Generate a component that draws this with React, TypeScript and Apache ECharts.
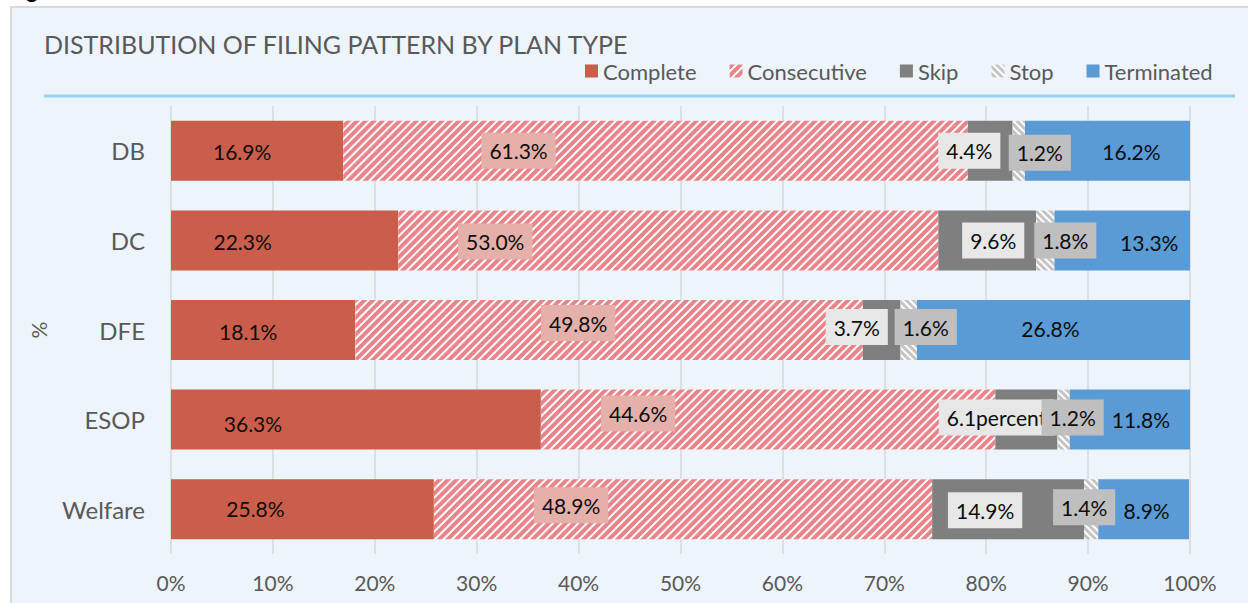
import React, { useEffect, useRef } from "react";
import * as echarts from "echarts";

const categories = ["DB", "DC", "DFE", "ESOP", "Welfare"];
const seriesNames = ["Complete", "Consecutive", "Skip", "Stop", "Terminated"];
const complete = [16.9, 22.3, 18.1, 36.3, 25.8];
const consecutive = [61.3, 53.0, 49.8, 44.6, 48.9];
const skip = [4.4, 9.6, 3.7, 6.1, 14.9];
const stop = [1.2, 1.8, 1.6, 1.2, 1.4];
const terminated = [16.2, 13.3, 26.8, 11.8, 8.9];
const xTicks = [0, 10, 20, 30, 40, 50, 60, 70, 80, 90, 100];
// custom label text (as in the source chart); null = default "x.x%"
const skipLabelText = [null, null, null, "6.1percent", null];

// label nudges in px [dx, dy] per series per category (as placed in the source chart)
const completeShift = [[-15, 1], [-42, 1], [-15, 1], [-103, 4], [-47, -1]];
const consecutiveShift = [[-137, 0], [-173, 1], [-31, -7], [-130, -6], [-112, -4]];
const skipShift = [[-21, 0], [6, 0], [-25, -3], [-30, -2], [-23, 1]];
const stopShift = [[21, 2], [20, 0], [17, -3], [9, -2], [-7, -2]];
const terminatedShift = [[24, 1], [27, 2], [-3, -2], [11, 0], [3, 1]];

const FONT = "Lato";
const GREY_TEXT = "#595959";

function buildData(values: number[], shifts: number[][], texts?: (string | null)[]) {
  return values.map((v, i) => {
    const item: any = { value: v, label: { offset: shifts[i] } };
    if (texts && texts[i]) item.label.formatter = texts[i];
    return item;
  });
}

export default function App() {
  const ref = useRef<HTMLDivElement>(null);
  useEffect(() => {
    if (!ref.current) return;
    const chart = echarts.init(ref.current, null, { renderer: "svg" });
    const labelBase = {
      show: true,
      position: "inside",
      fontFamily: FONT,
      fontSize: 21,
      color: "#0D0D0D",
      lineHeight: 24,
      formatter: (p: any) => `${p.value.toFixed(1)}%`,
    };
    const boxed = (bg: string) => ({
      ...labelBase,
      backgroundColor: bg,
      padding: [6, 8],
    });
    chart.setOption({
      animation: false,
      backgroundColor: "transparent",
      textStyle: { fontFamily: FONT },
      grid: { left: 171, right: 58, top: 106, height: 448, containLabel: false },
      legend: {
        left: 585,
        top: 60,
        padding: 0,
        itemWidth: 13,
        itemHeight: 13,
        itemGap: 33,
        icon: "rect",
        textStyle: { fontFamily: FONT, fontSize: 22, color: GREY_TEXT },
        data: seriesNames,
      },
      xAxis: {
        type: "value",
        min: xTicks[0],
        max: xTicks[xTicks.length - 1],
        interval: xTicks[1] - xTicks[0],
        axisLine: { show: false },
        axisTick: { show: false },
        splitLine: { show: true, lineStyle: { color: "#D9D9D9", width: 1.5 } },
        axisLabel: {
          formatter: "{value}%",
          fontFamily: FONT,
          fontSize: 21,
          color: GREY_TEXT,
          margin: 18,
        },
      },
      yAxis: {
        type: "category",
        inverse: true,
        data: categories,
        axisLine: { show: false },
        axisTick: { show: false },
        axisLabel: { fontFamily: FONT, fontSize: 24, color: GREY_TEXT, margin: 26 },
        name: "%",
        nameLocation: "middle",
        nameGap: 122,
        nameRotate: 90,
        nameTextStyle: { fontFamily: FONT, fontSize: 21, color: GREY_TEXT },
      },
      graphic: [
        {
          type: "text",
          left: 8,
          top: -22,
          style: { text: "Fig", fontFamily: FONT, fontWeight: "bold", fontSize: 22, fill: "#000" },
        },
        {
          type: "text",
          x: 44,
          y: 44,
          style: {
            text: "DISTRIBUTION OF FILING PATTERN BY PLAN TYPE",
            fontFamily: FONT,
            fontSize: 25,
            fill: GREY_TEXT,
            verticalAlign: "middle",
          },
        },
        {
          type: "line",
          shape: { x1: 44, y1: 96, x2: 1235, y2: 96 },
          style: { stroke: "#93D4F1", lineWidth: 3 },
        },
      ],
      series: [
        {
          name: "Complete",
          type: "bar",
          stack: "total",
          barWidth: 60,
          itemStyle: { color: "#CB5D4B" },
          label: { ...labelBase },
          data: buildData(complete, completeShift),
        },
        {
          name: "Consecutive",
          type: "bar",
          stack: "total",
          barWidth: 60,
          itemStyle: {
            color: "#FFFFFF",
            decal: {
              symbol: "rect",
              symbolSize: 1,
              color: "#E8848A",
              dashArrayX: [1, 0],
              dashArrayY: [3.5, 2],
              rotation: -Math.PI / 4,
            },
          },
          label: boxed("#E6B0AA"),
          data: buildData(consecutive, consecutiveShift),
        },
        {
          name: "Skip",
          type: "bar",
          stack: "total",
          barWidth: 60,
          itemStyle: { color: "#7F7F7F" },
          label: boxed("#E7E7E7"),
          data: buildData(skip, skipShift, skipLabelText),
        },
        {
          name: "Stop",
          type: "bar",
          stack: "total",
          barWidth: 60,
          itemStyle: {
            color: "#FFFFFF",
            decal: {
              symbol: "rect",
              symbolSize: 1,
              color: "#C4C4C4",
              dashArrayX: [1, 0],
              dashArrayY: [3, 2],
              rotation: Math.PI / 4,
            },
          },
          label: boxed("#BFBFBF"),
          data: buildData(stop, stopShift),
        },
        {
          name: "Terminated",
          type: "bar",
          stack: "total",
          barWidth: 60,
          itemStyle: { color: "#5B9BD5" },
          label: { ...labelBase },
          data: buildData(terminated, terminatedShift),
        },
      ],
    });
    return () => chart.dispose();
  }, []);

  return (
    <div
      style={{
        position: "absolute",
        left: 0,
        top: 0,
        width: 1248,
        height: 603,
        overflow: "hidden",
        background: "#FFFFFF",
      }}
    >
      <div
        style={{
          position: "absolute",
          left: 10,
          top: 6,
          width: 1260,
          height: 640,
          background: "#EDF4FB",
          border: "2px solid #D9D9D9",
        }}
      />
      <div ref={ref} style={{ position: "absolute", left: 0, top: 0, width: 1248, height: 603 }} />
    </div>
  );
}
